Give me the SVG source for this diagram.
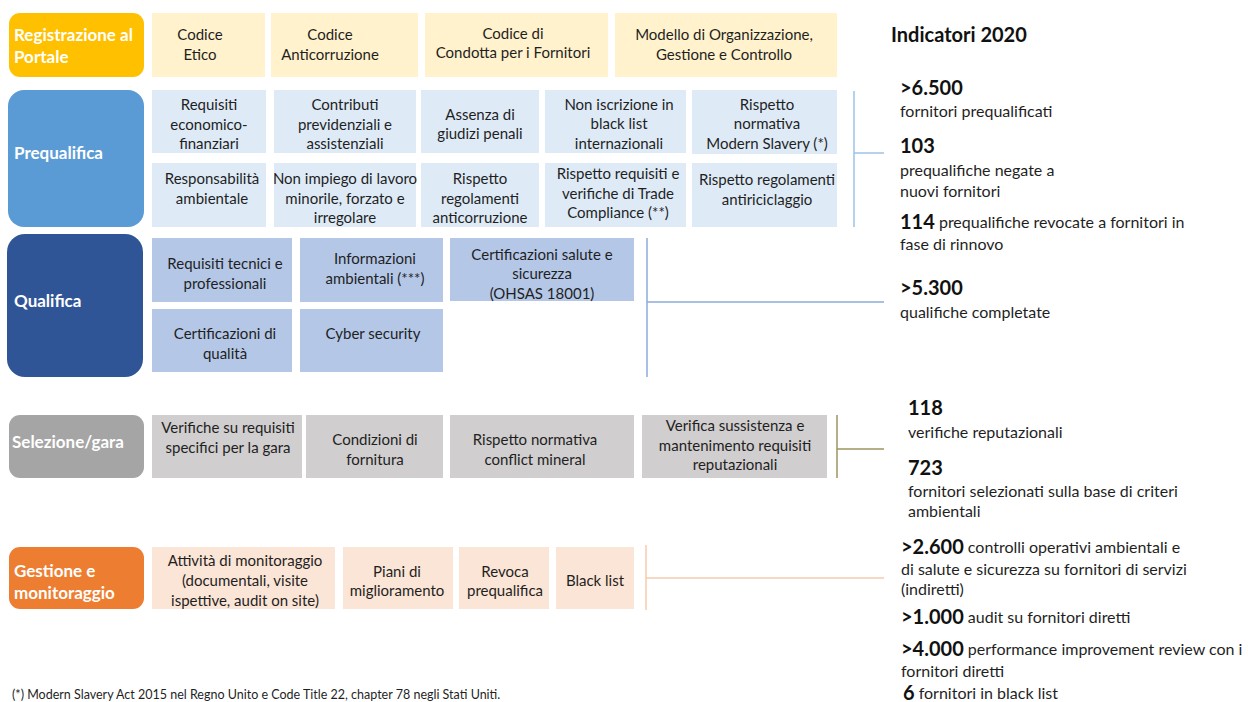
<svg xmlns="http://www.w3.org/2000/svg" width="1248" height="702" viewBox="0 0 1248 702">
<style>
text{font-family:Lato,"Open Sans","Liberation Sans",sans-serif;dominant-baseline:central}
.bx{font-size:15px;fill:#1f1f1f;text-anchor:middle}
.hd{font-size:17px;font-weight:bold;fill:#fff}
.num{font-size:20px;font-weight:bold;fill:#111}
.ind{font-size:16px;fill:#1f1f1f}
.ttl{font-size:20px;font-weight:bold;fill:#111}
.y{fill:#FFF2CC}.b{fill:#DEEBF7}.q{fill:#B4C7E7}.g{fill:#D0CECE}.o{fill:#FBE5D6}
.cn{fill:none;stroke-width:1.5}
</style>
<rect width="1248" height="702" fill="#fff"/>

<g id="registrazione">
<rect x="9" y="13" width="135" height="64" rx="11" fill="#FFC000"/>
<text class="hd" x="14" y="34">Registrazione al</text>
<text class="hd" x="14" y="56">Portale</text>
</g>
<g id="reg-codice-etico"><rect class="y" x="152" y="13" width="113" height="64"/>
<text class="bx" x="200" y="34">Codice</text><text class="bx" x="200" y="54">Etico</text></g>
<g id="reg-codice-anticorruzione"><rect class="y" x="271" y="13" width="147" height="64"/>
<text class="bx" x="330" y="34">Codice</text><text class="bx" x="330" y="54">Anticorruzione</text></g>
<g id="reg-codice-condotta"><rect class="y" x="425" y="13" width="183" height="64"/>
<text class="bx" x="513" y="33">Codice di</text><text class="bx" x="513" y="52">Condotta per i Fornitori</text></g>
<g id="reg-modello"><rect class="y" x="615" y="13" width="222" height="64"/>
<text class="bx" x="724" y="34">Modello di Organizzazione,</text><text class="bx" x="724" y="54">Gestione e Controllo</text></g>

<g id="prequalifica">
<rect x="8" y="90" width="136" height="137" rx="16" fill="#5B9BD5"/>
<text class="hd" x="14" y="152">Prequalifica</text>
</g>
<g id="pq-requisiti"><rect class="b" x="152" y="90" width="114" height="63"/>
<text class="bx" x="209" y="104">Requisiti</text><text class="bx" x="209" y="124">economico-</text><text class="bx" x="209" y="143">finanziari</text></g>
<g id="pq-contributi"><rect class="b" x="274" y="90" width="142" height="63"/>
<text class="bx" x="345" y="104">Contributi</text><text class="bx" x="345" y="124">previdenziali e</text><text class="bx" x="345" y="143">assistenziali</text></g>
<g id="pq-assenza"><rect class="b" x="421" y="90" width="118" height="63"/>
<text class="bx" x="480" y="114">Assenza di</text><text class="bx" x="480" y="133">giudizi penali</text></g>
<g id="pq-blacklist"><rect class="b" x="545" y="90" width="141" height="63"/>
<text class="bx" x="619" y="104">Non iscrizione in</text><text class="bx" x="619" y="123">black list</text><text class="bx" x="619" y="143">internazionali</text></g>
<g id="pq-slavery"><rect class="b" x="692" y="90" width="145" height="64"/>
<text class="bx" x="767" y="104">Rispetto</text><text class="bx" x="767" y="123">normativa</text><text class="bx" x="767" y="143">Modern Slavery (*)</text></g>
<g id="pq-responsabilita"><rect class="b" x="152" y="163" width="114" height="64"/>
<text class="bx" x="212" y="178">Responsabilità</text><text class="bx" x="212" y="198">ambientale</text></g>
<g id="pq-lavoro"><rect class="b" x="274" y="163" width="142" height="64"/>
<text class="bx" x="345" y="178">Non impiego di lavoro</text><text class="bx" x="345" y="198">minorile, forzato e</text><text class="bx" x="345" y="217">irregolare</text></g>
<g id="pq-anticorruzione"><rect class="b" x="421" y="163" width="118" height="64"/>
<text class="bx" x="480" y="178">Rispetto</text><text class="bx" x="480" y="198">regolamenti</text><text class="bx" x="480" y="217">anticorruzione</text></g>
<g id="pq-trade"><rect class="b" x="545" y="163" width="141" height="64"/>
<text class="bx" x="618" y="173">Rispetto requisiti e</text><text class="bx" x="618" y="193">verifiche di Trade</text><text class="bx" x="618" y="212">Compliance (**)</text></g>
<g id="pq-antiriciclaggio"><rect class="b" x="692" y="163" width="145" height="64"/>
<text class="bx" x="767" y="179">Rispetto regolamenti</text><text class="bx" x="767" y="199">antiriciclaggio</text></g>

<g id="qualifica">
<rect x="7" y="234" width="136" height="143" rx="18" fill="#2F5597"/>
<text class="hd" x="14" y="300">Qualifica</text>
</g>
<g id="q-tecnici"><rect class="q" x="152" y="238" width="140" height="64"/>
<text class="bx" x="225" y="263">Requisiti tecnici e</text><text class="bx" x="225" y="283">professionali</text></g>
<g id="q-ambientali"><rect class="q" x="300" y="238" width="143" height="64"/>
<text class="bx" x="375" y="258">Informazioni</text><text class="bx" x="375" y="278">ambientali (***)</text></g>
<g id="q-salute"><rect class="q" x="450" y="238" width="184" height="63"/>
<text class="bx" x="542" y="254">Certificazioni salute e</text><text class="bx" x="542" y="273">sicurezza</text><text class="bx" x="542" y="293">(OHSAS 18001)</text></g>
<g id="q-qualita"><rect class="q" x="152" y="309" width="140" height="63"/>
<text class="bx" x="225" y="333">Certificazioni di</text><text class="bx" x="225" y="353">qualità</text></g>
<g id="q-cyber"><rect class="q" x="300" y="309" width="143" height="63"/>
<text class="bx" x="373" y="333">Cyber security</text></g>

<g id="selezione">
<rect x="9" y="415" width="135" height="63" rx="11" fill="#A5A5A5"/>
<text class="hd" x="12" y="441">Selezione/gara</text>
</g>
<g id="s-verifiche"><rect class="g" x="152" y="415" width="150" height="63"/>
<text class="bx" x="228" y="427">Verifiche su requisiti</text><text class="bx" x="228" y="447">specifici per la gara</text></g>
<g id="s-condizioni"><rect class="g" x="306" y="415" width="137" height="63"/>
<text class="bx" x="375" y="439">Condizioni di</text><text class="bx" x="375" y="459">fornitura</text></g>
<g id="s-conflict"><rect class="g" x="450" y="415" width="184" height="63"/>
<text class="bx" x="535" y="439">Rispetto normativa</text><text class="bx" x="535" y="459">conflict mineral</text></g>
<g id="s-reputazionali"><rect class="g" x="642" y="415" width="185" height="63"/>
<text class="bx" x="735" y="425">Verifica sussistenza e</text><text class="bx" x="735" y="445">mantenimento requisiti</text><text class="bx" x="735" y="464">reputazionali</text></g>

<g id="gestione">
<rect x="9" y="547" width="135" height="62" rx="11" fill="#ED7D31"/>
<text class="hd" x="14" y="570">Gestione e</text>
<text class="hd" x="14" y="592">monitoraggio</text>
</g>
<g id="g-monitoraggio"><rect class="o" x="152" y="547" width="183" height="62"/>
<text class="bx" x="245" y="560">Attività di monitoraggio</text><text class="bx" x="245" y="580">(documentali, visite</text><text class="bx" x="245" y="600">ispettive, audit on site)</text></g>
<g id="g-piani"><rect class="o" x="343" y="547" width="110" height="62"/>
<text class="bx" x="397" y="571">Piani di</text><text class="bx" x="397" y="590">miglioramento</text></g>
<g id="g-revoca"><rect class="o" x="459" y="547" width="90" height="62"/>
<text class="bx" x="505" y="571">Revoca</text><text class="bx" x="505" y="590">prequalifica</text></g>
<g id="g-blacklist"><rect class="o" x="556" y="547" width="78" height="62"/>
<text class="bx" x="595" y="580">Black list</text></g>

<g id="connectors">
<path class="cn" stroke="#9DC3E6" d="M854 91V227M854 153H884"/>
<path class="cn" stroke="#8FAADC" d="M647 238V377M647 302H884"/>
<path class="cn" stroke="#9C9560" d="M837 415V478M837 449H884"/>
<path class="cn" stroke="#F8CBAD" d="M646 545V610M646 578H884"/>
</g>

<g id="indicatori">
<text class="ttl" x="891" y="34">Indicatori 2020</text>
<text class="num" x="900" y="87">&gt;6.500</text>
<text class="ind" x="900" y="110">fornitori prequalificati</text>
<text class="num" x="900" y="145">103</text>
<text class="ind" x="900" y="169">prequalifiche negate a</text>
<text class="ind" x="900" y="190">nuovi fornitori</text>
<text x="900" y="221"><tspan class="num">114</tspan><tspan class="ind"> prequalifiche revocate a fornitori in</tspan></text>
<text class="ind" x="900" y="243">fase di rinnovo</text>
<text class="num" x="900" y="287">&gt;5.300</text>
<text class="ind" x="900" y="311">qualifiche completate</text>
<text class="num" x="908" y="407">118</text>
<text class="ind" x="908" y="431">verifiche reputazionali</text>
<text class="num" x="908" y="467">723</text>
<text class="ind" x="908" y="490">fornitori selezionati sulla base di criteri</text>
<text class="ind" x="908" y="510">ambientali</text>
<text x="901" y="546"><tspan class="num">&gt;2.600</tspan><tspan class="ind"> controlli operativi ambientali e</tspan></text>
<text class="ind" x="901" y="568">di salute e sicurezza su fornitori di servizi</text>
<text class="ind" x="901" y="588">(indiretti)</text>
<text x="901" y="616"><tspan class="num">&gt;1.000</tspan><tspan class="ind"> audit su fornitori diretti</tspan></text>
<text x="901" y="648"><tspan class="num">&gt;4.000</tspan><tspan class="ind"> performance improvement review con i</tspan></text>
<text class="ind" x="901" y="670">fornitori diretti</text>
<text x="903" y="692"><tspan class="num">6</tspan><tspan class="ind"> fornitori in black list</tspan></text>
</g>

<text x="12" y="694" style="font-size:12.5px;fill:#1f1f1f">(*) Modern Slavery Act 2015 nel Regno Unito e Code Title 22, chapter 78 negli Stati Uniti.</text>
</svg>
